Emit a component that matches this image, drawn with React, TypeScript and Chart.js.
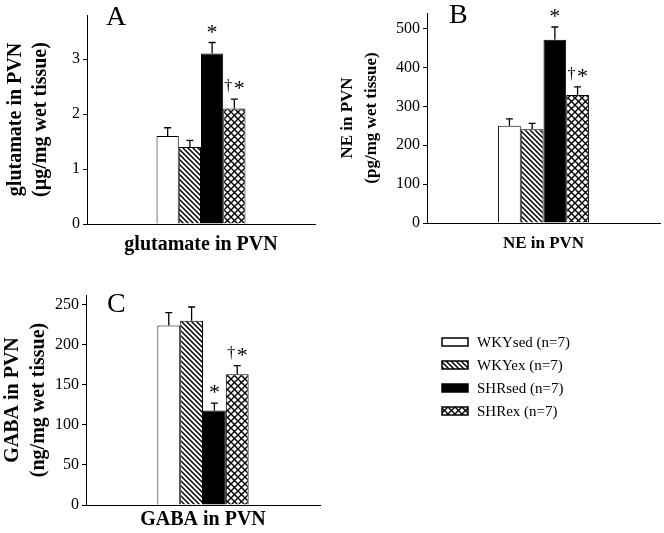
import React, { useEffect, useRef } from "react";
import { Chart, registerables } from "chart.js";

Chart.register(...registerables);

// ---------------- data ----------------
const groups = ["WKYsed (n=7)", "WKYex (n=7)", "SHRsed (n=7)", "SHRex (n=7)"];

const glutamateCategory = "glutamate in PVN";
const glutamateMeans = [1.6, 1.4, 3.1, 2.1];
const glutamateErrors = [0.15, 0.12, 0.2, 0.17];
const glutamateMarks = ["", "", "*", "†*"];
const glutamateTicks = [0, 1, 2, 3];

const neCategory = "NE in PVN";
const neMeans = [250, 241, 471, 329];
const neErrors = [18, 15, 33, 21];
const neMarks = ["", "", "*", "†*"];
const neTicks = [0, 100, 200, 300, 400, 500];

const gabaCategory = "GABA in PVN";
const gabaMeans = [224, 230, 118, 163];
const gabaErrors = [16, 17, 9, 11];
const gabaMarks = ["", "", "*", "†*"];
const gabaTicks = [0, 50, 100, 150, 200, 250];

const SERIF = '"Liberation Serif", "Times New Roman", serif';

// ---------------- patterns ----------------
function makeHatch(): CanvasPattern | string {
  const c = document.createElement("canvas");
  c.width = 5;
  c.height = 5;
  const g = c.getContext("2d");
  if (!g) return "#999";
  g.fillStyle = "#fff";
  g.fillRect(0, 0, 5, 5);
  g.strokeStyle = "#000";
  g.lineWidth = 1.5;
  g.beginPath();
  g.moveTo(-1, -1);
  g.lineTo(6, 6);
  g.moveTo(-1, 4);
  g.lineTo(1, 6);
  g.moveTo(4, -1);
  g.lineTo(6, 1);
  g.stroke();
  return g.createPattern(c, "repeat") || "#999";
}

function makeCross(): CanvasPattern | string {
  const s = 7;
  const c = document.createElement("canvas");
  c.width = s;
  c.height = s;
  const g = c.getContext("2d");
  if (!g) return "#ccc";
  g.fillStyle = "#fff";
  g.fillRect(0, 0, s, s);
  g.strokeStyle = "#000";
  g.lineWidth = 1.4;
  g.beginPath();
  g.moveTo(-1, -1);
  g.lineTo(s + 1, s + 1);
  g.moveTo(s + 1, -1);
  g.lineTo(-1, s + 1);
  g.stroke();
  return g.createPattern(c, "repeat") || "#ccc";
}

// ---------------- plugins ----------------
const errorBarPlugin = {
  id: "errorBars",
  afterDatasetsDraw(chart: any, _args: any, opts: any) {
    if (!opts || !opts.errors) return;
    const ctx = chart.ctx;
    const y = chart.scales.y;
    chart.data.datasets.forEach((ds: any, i: number) => {
      const bar = chart.getDatasetMeta(i).data[0];
      if (!bar) return;
      const v = ds.data[0];
      const yTop = y.getPixelForValue(v + opts.errors[i]);
      ctx.save();
      ctx.strokeStyle = "#000";
      ctx.lineWidth = 1.3;
      ctx.beginPath();
      ctx.moveTo(bar.x, bar.y);
      ctx.lineTo(bar.x, yTop);
      ctx.moveTo(bar.x - 3.5, yTop);
      ctx.lineTo(bar.x + 3.5, yTop);
      ctx.stroke();
      const mark: string = opts.marks[i] || "";
      ctx.fillStyle = "#000";
      ctx.textAlign = "center";
      ctx.textBaseline = "alphabetic";
      if (mark === "*") {
        ctx.font = "22px " + SERIF;
        ctx.fillText("*", bar.x, yTop - 4);
      } else if (mark === "†*") {
        ctx.font = "16px " + SERIF;
        ctx.fillText("†", bar.x - 6, yTop - 8);
        ctx.font = "22px " + SERIF;
        ctx.fillText("*", bar.x + 5, yTop - 4);
      }
      ctx.restore();
    });
  },
};

const panelLabelPlugin = {
  id: "panelLabel",
  afterDraw(chart: any, _args: any, opts: any) {
    if (!opts || !opts.text) return;
    const ctx = chart.ctx;
    ctx.save();
    ctx.fillStyle = "#000";
    ctx.font = "28px " + SERIF;
    ctx.textAlign = "left";
    ctx.textBaseline = "alphabetic";
    ctx.fillText(opts.text, opts.x, opts.y);
    ctx.restore();
  },
};

const sideLegendPlugin = {
  id: "sideLegend",
  afterDraw(chart: any, _args: any, opts: any) {
    if (!opts || !opts.display) return;
    const ctx = chart.ctx;
    chart.data.datasets.forEach((ds: any, i: number) => {
      const cy = opts.y + i * opts.spacing;
      ctx.save();
      ctx.fillStyle = ds.backgroundColor;
      ctx.fillRect(opts.x, cy - opts.boxHeight / 2, opts.boxWidth, opts.boxHeight);
      ctx.strokeStyle = "#000";
      ctx.lineWidth = 1.5;
      ctx.strokeRect(opts.x, cy - opts.boxHeight / 2, opts.boxWidth, opts.boxHeight);
      ctx.fillStyle = "#000";
      ctx.font = "15px " + SERIF;
      ctx.textAlign = "left";
      ctx.textBaseline = "middle";
      ctx.fillText(ds.label, opts.textX, cy + 1);
      ctx.restore();
    });
  },
};

// ---------------- chart factory ----------------
type PanelCfg = {
  category: string;
  means: number[];
  errors: number[];
  marks: string[];
  ticks: number[];
  max: number;
  yTitle: string[];
  letter: string;
  letterX: number;
  letterY: number;
  padding: { top: number; right: number; left: number; bottom: number };
  yWidth: number;
  xHeight: number;
  xTitleSize: number;
  xTitlePad: number;
  yTitleSize: number;
  yTitleLineHeight: number;
  yTitlePad: number;
  legend?: boolean;
};

function makeChart(canvas: HTMLCanvasElement, cfg: PanelCfg) {
  const fills = ["#ffffff", makeHatch(), "#000000", makeCross()];
  return new Chart(canvas, {
    type: "bar",
    data: {
      labels: [cfg.category],
      datasets: groups.map((g, i) => ({
        label: g,
        data: [cfg.means[i]],
        backgroundColor: fills[i] as any,
        borderColor: "#000",
        borderWidth: 1,
        barPercentage: 1,
        categoryPercentage: 0.39,
      })),
    },
    options: {
      responsive: false,
      animation: false,
      devicePixelRatio: 1,
      layout: { padding: cfg.padding },
      plugins: {
        legend: { display: false },
        tooltip: { enabled: false },
        errorBars: { errors: cfg.errors, marks: cfg.marks },
        panelLabel: { text: cfg.letter, x: cfg.letterX, y: cfg.letterY },
        sideLegend: {
          display: !!cfg.legend,
          x: 442,
          y: 82,
          spacing: 23,
          boxWidth: 26,
          boxHeight: 8,
          textX: 477,
        },
      } as any,
      scales: {
        x: {
          grid: { display: false },
          border: { display: true, color: "#000", width: 1 },
          ticks: { display: false },
          title: {
            display: true,
            text: cfg.category,
            color: "#000",
            font: { family: SERIF, size: cfg.xTitleSize, weight: "bold", lineHeight: 1.2 },
            padding: { top: 0, bottom: cfg.xTitlePad },
          },
          afterFit: (s: any) => {
            s.height = cfg.xHeight;
          },
        },
        y: {
          min: 0,
          max: cfg.max,
          afterBuildTicks: (s: any) => {
            s.ticks = cfg.ticks.map((v) => ({ value: v }));
          },
          grid: {
            display: true,
            drawOnChartArea: false,
            drawTicks: true,
            tickLength: 4,
            color: "#000",
            tickColor: "#000",
          },
          border: { display: true, color: "#000", width: 1 },
          ticks: {
            color: "#000",
            font: { family: SERIF, size: 16 },
            padding: 3,
          },
          title: {
            display: true,
            text: cfg.yTitle,
            color: "#000",
            font: {
              family: SERIF,
              size: cfg.yTitleSize,
              weight: "bold",
              lineHeight: cfg.yTitleLineHeight,
            },
            padding: { top: cfg.yTitlePad, bottom: 0 },
          },
          afterFit: (s: any) => {
            s.width = cfg.yWidth;
          },
        },
      },
    } as any,
    plugins: cfg.legend
      ? [errorBarPlugin, panelLabelPlugin, sideLegendPlugin]
      : [errorBarPlugin, panelLabelPlugin],
  });
}

const panelA: PanelCfg = {
  category: glutamateCategory,
  means: glutamateMeans,
  errors: glutamateErrors,
  marks: glutamateMarks,
  ticks: glutamateTicks,
  max: 3.8,
  yTitle: ["glutamate in PVN", "(µg/mg wet tissue)"],
  letter: "A",
  letterX: 106,
  letterY: 25,
  padding: { top: 15, right: 15, left: 0, bottom: 0 },
  yWidth: 87,
  xHeight: 36,
  xTitleSize: 20,
  xTitlePad: 3,
  yTitleSize: 20,
  yTitleLineHeight: 1.25,
  yTitlePad: 3,
};

const panelB: PanelCfg = {
  category: neCategory,
  means: neMeans,
  errors: neErrors,
  marks: neMarks,
  ticks: neTicks,
  max: 540,
  yTitle: ["NE in PVN", "(pg/mg wet tissue)"],
  letter: "B",
  letterX: 119,
  letterY: 23,
  padding: { top: 13, right: 4, left: 0, bottom: 0 },
  yWidth: 97,
  xHeight: 37,
  xTitleSize: 17,
  xTitlePad: 6,
  yTitleSize: 17,
  yTitleLineHeight: 1.4,
  yTitlePad: 6,
};

const panelC: PanelCfg = {
  category: gabaCategory,
  means: gabaMeans,
  errors: gabaErrors,
  marks: gabaMarks,
  ticks: gabaTicks,
  max: 262,
  yTitle: ["GABA in PVN", "(ng/mg wet tissue)"],
  letter: "C",
  letterX: 107,
  letterY: 52,
  padding: { top: 35, right: 344, left: 0, bottom: 0 },
  yWidth: 86,
  xHeight: 28,
  xTitleSize: 20,
  xTitlePad: 1,
  yTitleSize: 20,
  yTitleLineHeight: 1.3,
  yTitlePad: 0,
  legend: true,
};

export default function App() {
  const refA = useRef<HTMLCanvasElement>(null);
  const refB = useRef<HTMLCanvasElement>(null);
  const refC = useRef<HTMLCanvasElement>(null);

  useEffect(() => {
    const charts: Chart[] = [];
    if (refA.current) charts.push(makeChart(refA.current, panelA));
    if (refB.current) charts.push(makeChart(refB.current, panelB));
    if (refC.current) charts.push(makeChart(refC.current, panelC));
    return () => charts.forEach((c) => c.destroy());
  }, []);

  return (
    <div
      style={{
        position: "fixed",
        left: 0,
        top: 0,
        width: 664,
        height: 533,
        background: "#fff",
        overflow: "hidden",
      }}
    >
      <canvas ref={refA} width={330} height={260} style={{ position: "absolute", left: 0, top: 0 }} />
      <canvas ref={refB} width={334} height={260} style={{ position: "absolute", left: 330, top: 0 }} />
      <canvas ref={refC} width={664} height={273} style={{ position: "absolute", left: 0, top: 260 }} />
    </div>
  );
}
